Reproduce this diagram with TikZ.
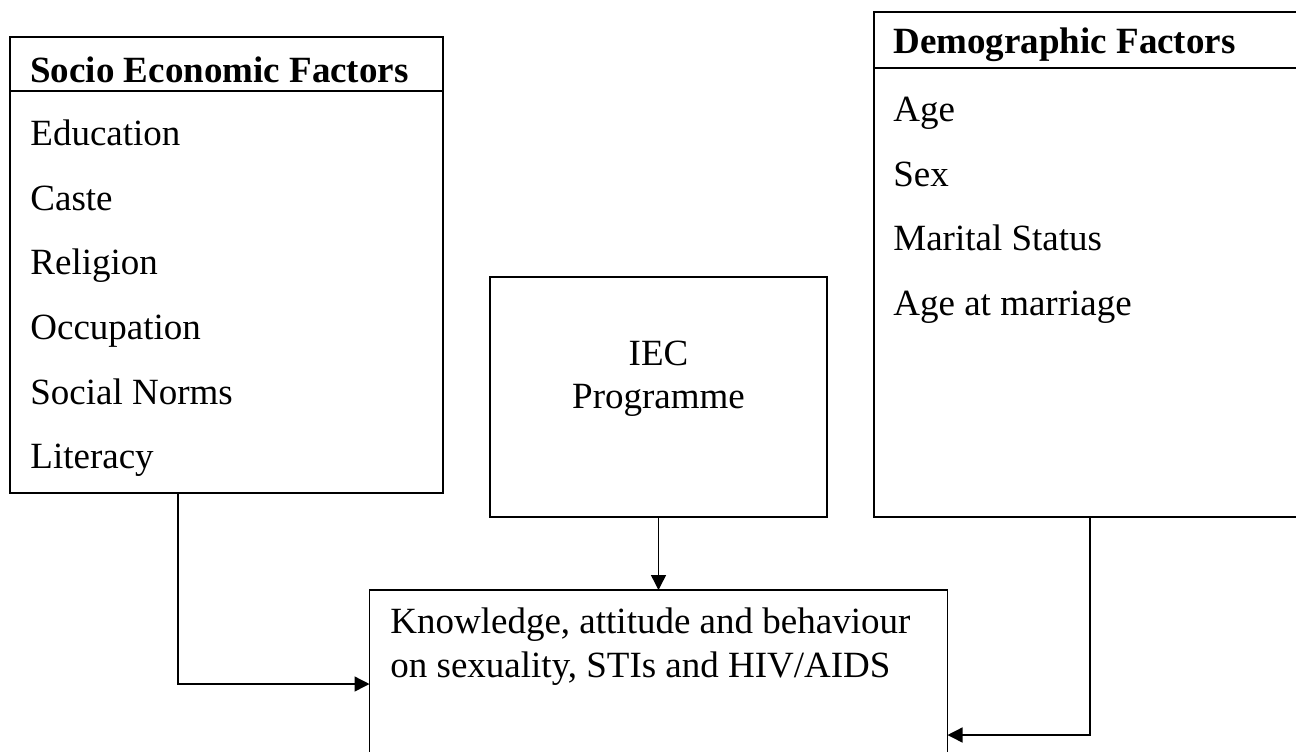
\documentclass[tikz,border=0pt]{standalone}
\usepackage{fontspec}
\setmainfont{Liberation Serif}
\usetikzlibrary{arrows.meta}
\begin{document}
\begin{tikzpicture}[x=0.5pt,y=-0.5pt,
    box/.style={draw,line width=0.7pt,inner sep=0pt,outer sep=0pt},
    item/.style={anchor=base west,inner sep=0pt,font=\fontsize{18.5}{21.5}\selectfont},
    head/.style={item,font=\fontsize{18.5}{21.5}\selectfont\bfseries},
    mid/.style={item,anchor=base},
    link/.style={line width=0.7pt,-{Triangle[length=7.5pt,width=7.5pt]}}]
      \clip (0,0) rectangle (1296,751);%

      % the four boxes
      \node[box,minimum width=216.5pt,minimum height=228pt] (socio) at (226.5,265) {};%
      \node[box,minimum width=223pt,minimum height=252.5pt] (demo) at (1097,264.5) {};%
      \node[box,minimum width=168.5pt,minimum height=120pt] (iec) at (658.5,397) {};%
      \node[box,minimum width=289pt,minimum height=94pt] (know) at (658.5,684) {};%

      \draw[line width=0.7pt] (socio.west |- 0,91) -- (socio.east |- 0,91);%
      \draw[line width=0.7pt] (demo.west |- 0,68) -- (demo.east |- 0,68);%

      % socio economic factors
      \node[head] (sochead) at (30,82) {Socio Economic Factors};%
      \node[item] (soc1) at (30,145) {Education};%
      \node[item] (soc2) at (30,210) {Caste};%
      \node[item] (soc3) at (30,274) {Religion};%
      \node[item] (soc4) at (30,339) {Occupation};%
      \node[item] (soc5) at (30,404) {Social Norms};%
      \node[item] (soc6) at (30,468) {Literacy};%

      % demographic factors
      \node[head] (demhead) at (893,53) {Demographic Factors};%
      \node[item] (dem1) at (893,121) {Age};%
      \node[item] (dem2) at (893,186) {Sex};%
      \node[item] (dem3) at (893,250) {Marital Status};%
      \node[item] (dem4) at (893,315) {Age at marriage};%

      \node[mid] (iec1) at (658.5,365) {IEC};%
      \node[mid] (iec2) at (658.5,408) {Programme};%

      \node[item] (know1) at (390,633) {Knowledge, attitude and behaviour};%
      \node[item] (know2) at (390,677) {on sexuality, STIs and HIV/AIDS};%

      % connectors
      \draw[link] ([xshift=84pt]socio.south west) |- (know.west);%
      \draw[link] (iec.south) -- (iec.south |- know.north);%
      \draw[link] ([xshift=108pt]demo.south west) |- ([yshift=-25.5pt]know.east);%
    \end{tikzpicture}
\end{document}
